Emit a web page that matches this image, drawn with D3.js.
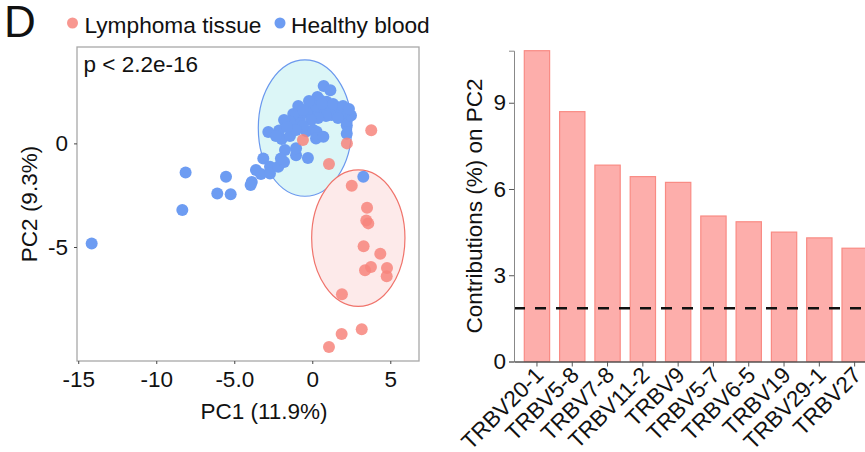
<!DOCTYPE html>
<html>
<head>
<meta charset="utf-8">
<script src="https://cdn.jsdelivr.net/npm/d3@7"></script>
<style>
  html, body { margin: 0; padding: 0; background: #fff; }
  svg { display: block; }
  text { font-family: "Liberation Sans", Arial, sans-serif; fill: #111; }
</style>
</head>
<body>
<svg id="chart" width="865" height="452"></svg>
<script>
// ---- PCA scores (PC1, PC2) ----
const lymphomaTissue = [
  [-0.60, 0.16], [2.22, 0.00], [3.78, 0.63], [1.07, -1.00], [2.53, -2.05],
  [3.51, -3.11], [3.46, -3.72], [3.59, -3.86], [3.29, -4.96], [4.36, -5.33],
  [3.76, -5.96], [3.38, -6.12], [4.79, -6.01], [4.77, -6.41], [1.90, -7.28],
  [3.17, -8.97], [1.88, -9.20], [1.07, -9.83]
];
const healthyBlood = [
  [-14.14, -4.83], [-8.33, -3.22], [-8.12, -1.40], [-6.09, -2.42], [-5.53, -1.61],
  [-5.23, -2.46], [-3.88, -1.86], [-3.95, -2.01], [-3.61, -1.29], [-3.14, -0.73],
  [-3.29, -1.48], [-2.71, -1.13], [-2.71, -1.45], [-2.18, -1.13], [-1.81, -0.90],
  [-1.75, -0.32], [-2.01, -0.73], [-1.96, 0.21], [-1.04, -0.57], [-1.04, -0.24],
  [-0.28, -0.71], [-2.82, 0.55], [-2.13, 0.62], [-1.43, 0.35], [-1.11, 0.77],
  [-0.37, 0.59], [0.06, 0.64], [0.28, 0.56], [0.24, 0.24], [0.71, 0.32],
  [2.21, 0.47], [2.21, 0.88], [2.21, 1.08], [2.48, 1.34], [1.78, 1.61],
  [2.16, 1.56], [1.52, 1.77], [1.23, 1.37], [0.59, 1.56], [0.06, 1.45],
  [-0.15, 1.80], [-0.36, 1.49], [-0.79, 1.29], [-0.79, 0.98], [-1.22, 1.42],
  [-1.43, 1.04], [-1.81, 1.13], [-0.90, 1.80], [0.33, 2.24], [0.49, 2.09],
  [0.92, 2.01], [0.73, 2.77], [1.16, 2.56], [3.27, -1.61], [-0.60, 1.61],
  [0.24, 1.80], [1.01, 1.71], [1.90, 1.46], [1.65, 1.22], [0.88, 1.32],
  [0.37, 1.22], [-0.08, 1.13], [-0.60, 0.84], [-1.04, 0.64], [1.33, 1.90],
  [1.97, 1.80], [2.35, 1.66], [-1.62, 0.79], [-2.33, 0.35], [0.62, 1.90],
  [-0.21, 2.04]
];
// group ellipses: centre (PC1, PC2) and semi-axes in PC units
const ellipseHealthy = { cx: -0.47, cy: 0.74, rx: 2.99, ry: 3.29 };
const ellipseTissue = { cx: 2.95, cy: -4.57, rx: 2.99, ry: 3.29 };
const groupNames = ["Lymphoma tissue", "Healthy blood"];
const pcaXTicks = [-15, -10, -5, 0, 5];
const pcaXTickLabels = ["-15", "-10", "-5.0", "0", "5"];
const pcaYTicks = [-5, 0];
const pcaYTickLabels = ["-5", "0"];
const pValueText = "p < 2.2e-16";

// ---- contributions of variables to PC2 (%) ----
const genes = ["TRBV20-1", "TRBV5-8", "TRBV7-8", "TRBV11-2", "TRBV9",
               "TRBV5-7", "TRBV6-5", "TRBV19", "TRBV29-1", "TRBV27"];
const contributions = [10.81, 8.69, 6.83, 6.43, 6.23, 5.06, 4.86, 4.50, 4.30, 3.94];
const expectedContribution = 1.85;
const contribTicks = [0, 3, 6, 9];

const colTissue = "#f7857d";
const colBlood = "#6d9cf2";
const FONT = 22.5;

const svg = d3.select("#chart");

// ================= PCA scatter =================
const px = d3.scaleLinear().domain([-15.08, 6.84]).range([77, 419]);
const py = d3.scaleLinear().domain([-10.5, 4.65]).range([361, 47]);

// panel frame
svg.append("rect")
  .attr("x", px.range()[0]).attr("y", py.range()[1])
  .attr("width", px.range()[1] - px.range()[0])
  .attr("height", py.range()[0] - py.range()[1])
  .attr("fill", "#fff").attr("stroke", "#a8a8a8").attr("stroke-width", 1.3);

// concentration ellipses
function drawEllipse(e, fill, stroke) {
  svg.append("ellipse")
    .attr("cx", px(e.cx)).attr("cy", py(e.cy))
    .attr("rx", px(e.cx + e.rx) - px(e.cx))
    .attr("ry", py(e.cy - e.ry) - py(e.cy))
    .attr("fill", fill).attr("stroke", stroke).attr("stroke-width", 1.2);
}
drawEllipse(ellipseHealthy, "#dcf6f7", "#6a98ee");
drawEllipse(ellipseTissue, "#fdeaea", "#f0736b");

// points
svg.append("g").selectAll("circle").data(healthyBlood).join("circle")
  .attr("cx", d => px(d[0])).attr("cy", d => py(d[1])).attr("r", 6)
  .attr("fill", colBlood);
svg.append("g").selectAll("circle").data(lymphomaTissue).join("circle")
  .attr("cx", d => px(d[0])).attr("cy", d => py(d[1])).attr("r", 6)
  .attr("fill", colTissue).attr("fill-opacity", 0.85);

// axes
const xAxisP = svg.append("g").attr("transform", `translate(0,${py.range()[0]})`)
  .call(d3.axisBottom(px).tickValues(pcaXTicks)
    .tickFormat((d, i) => pcaXTickLabels[i]).tickSize(3).tickPadding(7));
xAxisP.select(".domain").remove();
xAxisP.selectAll(".tick line").attr("stroke", "#444");
xAxisP.selectAll("text").attr("font-size", FONT).attr("fill", "#111");

const yAxisP = svg.append("g").attr("transform", `translate(${px.range()[0]},0)`)
  .call(d3.axisLeft(py).tickValues(pcaYTicks)
    .tickFormat((d, i) => pcaYTickLabels[i]).tickSize(3).tickPadding(6));
yAxisP.select(".domain").remove();
yAxisP.selectAll(".tick line").attr("stroke", "#444");
yAxisP.selectAll("text").attr("font-size", FONT).attr("fill", "#111");

svg.append("text").attr("x", 264).attr("y", 419)
  .attr("text-anchor", "middle").attr("font-size", FONT).text("PC1 (11.9%)");
svg.append("text").attr("transform", "translate(37,204) rotate(-90)")
  .attr("text-anchor", "middle").attr("font-size", FONT).text("PC2 (9.3%)");
svg.append("text").attr("x", 83.5).attr("y", 71.5)
  .attr("font-size", FONT).text(pValueText);

// panel tag and legend
svg.append("text").attr("x", 4).attr("y", 37).attr("font-size", 44).text("D");
const legend = [
  { name: groupNames[0], col: colTissue, cx: 72.5, tx: 84.5 },
  { name: groupNames[1], col: colBlood, cx: 280, tx: 291 }
];
legend.forEach(l => {
  svg.append("circle").attr("cx", l.cx).attr("cy", 23).attr("r", 5.5)
    .attr("fill", l.col).attr("fill-opacity", l.col === colTissue ? 0.85 : 1);
  svg.append("text").attr("x", l.tx).attr("y", 33).attr("font-size", 22.7).text(l.name);
});

// ================= contribution bar chart =================
const bx = d3.scaleBand().domain(genes).range([514, 877.6])
  .paddingInner(0.283).paddingOuter(0.292);
const by = d3.scaleLinear().domain([0, d3.max(contributions)]).range([361.5, 50.7]);

svg.append("g").selectAll("rect").data(genes).join("rect")
  .attr("x", d => bx(d)).attr("y", (d, i) => by(contributions[i]))
  .attr("width", bx.bandwidth())
  .attr("height", (d, i) => by(0) - by(contributions[i]))
  .attr("fill", "#fdaeab").attr("stroke", "#f98b84").attr("stroke-width", 1.2);

// expected average contribution
svg.append("line")
  .attr("x1", 514).attr("x2", 877)
  .attr("y1", by(expectedContribution)).attr("y2", by(expectedContribution))
  .attr("stroke", "#111").attr("stroke-width", 2.6).attr("stroke-dasharray", "11,10");

const yAxisB = svg.append("g").attr("transform", "translate(514,0)")
  .call(d3.axisLeft(by).tickValues(contribTicks).tickSize(5).tickPadding(3));
yAxisB.select(".domain").attr("stroke", "#888");
yAxisB.selectAll(".tick line").attr("stroke", "#555");
yAxisB.selectAll("text").attr("font-size", FONT).attr("fill", "#111");

const xAxisB = svg.append("g").attr("transform", `translate(0,${by(0)})`)
  .call(d3.axisBottom(bx).tickSize(5).tickSizeOuter(0));
xAxisB.select(".domain").attr("stroke", "#555").attr("stroke-width", 1.3);
xAxisB.selectAll(".tick line").attr("stroke", "#555");
xAxisB.selectAll("text")
  .attr("font-size", FONT).attr("fill", "#111")
  .attr("text-anchor", "end")
  .attr("transform", "translate(8,15) rotate(-45)")
  .attr("x", 0).attr("y", 0).attr("dy", 0);

svg.append("text").attr("transform", "translate(482,206) rotate(-90)")
  .attr("text-anchor", "middle").attr("font-size", FONT).text("Contributions (%) on PC2");
</script>
</body>
</html>
